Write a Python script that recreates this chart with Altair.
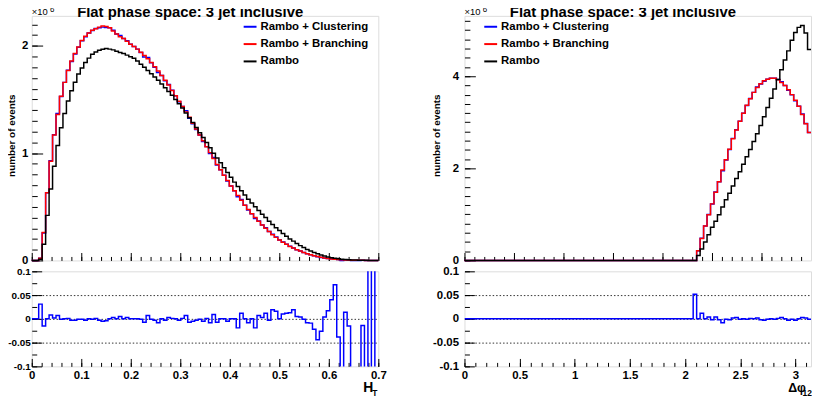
import math
import altair as alt
import pandas as pd

FONT = "Liberation Sans"
NBINS = 100
HT_RANGE = [0.0, 0.7]
DPHI_RANGE = [0.0, 3.14159265]

SERIES = ["Rambo + Clustering", "Rambo + Branching", "Rambo"]
COLORS = ["#0000ff", "#ff0000", "#000000"]

# ---------------- H_T histograms (units of 1e6 events), 100 bins on [0, 0.7]
ht_branching = [
    0, 0, 0.02, 0.26, 0.63, 0.925, 1.17, 1.36, 1.53, 1.66,
    1.77, 1.86, 1.93, 1.99, 2.05, 2.09, 2.12, 2.145, 2.16, 2.175,
    2.185, 2.18, 2.17, 2.14, 2.11, 2.086, 2.068, 2.043, 2.015, 1.995,
    1.97, 1.94, 1.91, 1.88, 1.845, 1.805, 1.765, 1.725, 1.68, 1.635,
    1.585, 1.535, 1.485, 1.435, 1.385, 1.335, 1.28, 1.225, 1.17, 1.115,
    1.06, 1.005, 0.95, 0.895, 0.845, 0.795, 0.745, 0.695, 0.65, 0.605,
    0.56, 0.515, 0.475, 0.435, 0.40, 0.365, 0.33, 0.30, 0.27, 0.24,
    0.215, 0.19, 0.17, 0.15, 0.13, 0.115, 0.10, 0.087, 0.075, 0.063,
    0.053, 0.044, 0.036, 0.029, 0.023, 0.018, 0.014, 0.011, 0.008, 0.006,
    0.004, 0.003, 0.002, 0.0015, 0.001, 0.0007, 0.0004, 0.0002, 0.0001, 0.0,
]
ht_clustering = [
    0, 0, 0.021, 0.256, 0.63, 0.93, 1.172, 1.37, 1.528, 1.66,
    1.772, 1.855, 1.925, 1.988, 2.048, 2.085, 2.12, 2.143, 2.162, 2.17,
    2.175, 2.172, 2.17, 2.146, 2.11, 2.096, 2.068, 2.049, 2.015, 1.995,
    1.97, 1.938, 1.897, 1.893, 1.843, 1.8, 1.751, 1.725, 1.675, 1.64,
    1.587, 1.535, 1.48, 1.436, 1.395, 1.326, 1.274, 1.221, 1.169, 1.109,
    1.061, 0.997, 0.959, 0.889, 0.845, 0.795, 0.741, 0.695, 0.65, 0.594,
    0.567, 0.515, 0.471, 0.435, 0.392, 0.368, 0.331, 0.304, 0.269, 0.245,
    0.218, 0.19, 0.172, 0.152, 0.132, 0.117, 0.1, 0.087, 0.075, 0.062,
    0.052, 0.043, 0.034, 0.028, 0.023, 0.018, 0.0146, 0.0118, 0.0077, 0.0,
    0.004, 0.003, 0.0, 0.0, 0.0, 0.0007, 0.0, 0.0003, 0.0, 0.0002,
]
ht_rambo = [
    0, 0, 0.01, 0.15, 0.42, 0.667, 0.879, 1.072, 1.238, 1.37,
    1.487, 1.582, 1.662, 1.739, 1.794, 1.846, 1.886, 1.923, 1.944, 1.96,
    1.969, 1.975, 1.97, 1.963, 1.95, 1.938, 1.929, 1.914, 1.899, 1.885,
    1.86, 1.83, 1.80, 1.77, 1.74, 1.71, 1.68, 1.645, 1.61, 1.575,
    1.54, 1.50, 1.46, 1.42, 1.375, 1.33, 1.285, 1.24, 1.19, 1.145,
    1.10, 1.05, 1.00, 0.955, 0.91, 0.865, 0.82, 0.775, 0.73, 0.69,
    0.65, 0.61, 0.57, 0.535, 0.50, 0.465, 0.43, 0.40, 0.365, 0.335,
    0.305, 0.28, 0.25, 0.225, 0.20, 0.18, 0.158, 0.138, 0.12, 0.103,
    0.088, 0.074, 0.062, 0.051, 0.041, 0.033, 0.026, 0.02, 0.015, 0.011,
    0.008, 0.006, 0.004, 0.003, 0.002, 0.0013, 0.0008, 0.0004, 0.0002, 0.0001,
]
ht_ratio = [
    0, 0, 0.031, -0.015, 0, 0.008, 0.002, 0.007, -0.001, 0,
    0.001, -0.003, -0.003, -0.001, -0.001, -0.003, 0, -0.001, 0.001, -0.003,
    -0.005, -0.004, 0, 0.003, 0, 0.005, 0, 0.003, 0, 0,
    0, -0.001, -0.007, 0.007, -0.001, -0.003, -0.008, 0, -0.003, 0.003,
    0.001, 0, -0.003, 0.001, 0.007, -0.007, -0.005, -0.003, -0.001, -0.005,
    0.001, -0.008, 0.009, -0.007, 0, 0, -0.005, 0, 0, -0.019,
    0.012, 0, -0.008, 0, -0.019, 0.007, 0.003, 0.012, -0.003, 0.019,
    0.016, 0, 0.01, 0.012, 0.013, 0.019, 0.005, 0.004, -0.001, -0.008,
    -0.009, -0.022, -0.044, -0.026, 0.004, 0.017, 0.04, 0.072, -0.038, -0.5,
    0.014, -0.015, -0.5, -0.5, -0.5, -0.014, -0.5, 0.5, -0.5, 0.5,
]

# ---------------- delta phi_12 histograms, 100 bins on [0, pi]
dphi_branching = [0] * 67 + [
    0.209, 0.474, 0.747, 0.991, 1.228, 1.48, 1.71, 1.961, 2.184, 2.414,
    2.644, 2.83, 3.024, 3.197, 3.369, 3.513, 3.649, 3.757, 3.836, 3.9,
    3.936, 3.958, 3.958, 3.922, 3.865, 3.8, 3.707, 3.6, 3.477, 3.348,
    3.168, 2.967, 2.78,
]
dphi_clustering = [0] * 67 + [
    0.209, 0.48, 0.747, 0.995, 1.226, 1.486, 1.707, 1.945, 2.182, 2.41,
    2.65, 2.838, 3.021, 3.197, 3.366, 3.516, 3.649, 3.765, 3.829, 3.888,
    3.932, 3.958, 3.954, 3.926, 3.877, 3.8, 3.696, 3.596, 3.467, 3.348,
    3.178, 2.973, 2.777,
]
dphi_rambo = [0] * 67 + [
    0.108, 0.25, 0.40, 0.56, 0.72, 0.85, 0.99, 1.16, 1.315, 1.46,
    1.615, 1.78, 1.925, 2.09, 2.25, 2.41, 2.58, 2.75, 2.93, 3.12,
    3.32, 3.52, 3.72, 3.93, 4.14, 4.35, 4.55, 4.78, 4.95, 5.06,
    5.1, 4.94, 4.58,
]
dphi_ratio = [0] * 66 + [
    0.052, 0, 0.012, 0, 0.004, -0.002, 0.004, -0.002, -0.008, -0.001,
    -0.002, 0.002, 0.003, -0.001, 0, -0.001, 0.001, 0, 0.002, -0.002,
    -0.003, -0.001, 0, -0.001, 0.001, 0.003, 0, -0.003, -0.001, -0.003,
    0, 0.003, 0.002, -0.001,
]

HT_TICKS = [0, 0.1, 0.2, 0.3, 0.4, 0.5, 0.6, 0.7]
DPHI_TICKS = [0, 0.5, 1, 1.5, 2, 2.5, 3]
HT_YTICKS = [0, 1, 2]
DPHI_YTICKS = [0, 2, 4]
RATIO_TICKS = [-0.1, -0.05, 0, 0.05, 0.1]
RATIO_GRID = [-0.05, 0, 0.05]

ht_minor_x = [round(0.02 * i, 3) for i in range(36)]
dphi_minor_x = [round(0.1 * i, 2) for i in range(32)]
dphi_top_major_x = [k * math.pi / 7 for k in range(8)]
dphi_top_minor_x = [k * math.pi / 35 for k in range(36)]
ht_minor_y = [round(0.1 * i, 2) for i in range(23)]
dphi_minor_y = [round(0.2 * i, 2) for i in range(27)]
ratio_minor_y = [round(-0.1 + 0.025 * i, 3) for i in range(9)]


def step_frame(rng, named):
    lo, hi = rng
    w = (hi - lo) / NBINS
    rows = []
    for name, vals in named:
        for i, v in enumerate(vals):
            rows.append({"x": lo + i * w, "y": v, "s": name})
        rows.append({"x": hi, "y": vals[-1], "s": name})
    return pd.DataFrame(rows)


def axis(values, size, orient, labels=False, pad=3, expr=None, grid=False, ticks=True,
         lsize=11.5):
    kw = dict(values=values, orient=orient, domain=False, grid=grid, labels=labels,
              title=None, ticks=ticks)
    if ticks:
        kw.update(tickSize=size, offset=-size, tickColor="black", tickWidth=1)
    if labels:
        kw.update(labelFont=FONT, labelFontSize=lsize, labelFontWeight="bold",
                  labelColor="black", labelPadding=pad, labelExpr=expr,
                  labelOverlap=False, labelFlush=False)
    if grid:
        kw.update(gridColor="#333333", gridDash=[1.5, 2], gridWidth=1)
    return alt.Axis(**kw)


def text(t, x, y, size, weight="bold", align="left", angle=0, baseline="alphabetic"):
    return alt.Chart(pd.DataFrame({"t": [t]})).mark_text(
        font=FONT, fontSize=size, fontWeight=weight, align=align,
        baseline=baseline, angle=angle, color="black",
    ).encode(x=alt.value(x), y=alt.value(y), text="t:N")


W, H_TOP, H_RAT = 350, 247, 96


def top_panel(df, xdom, ydom, xmaj, xmin, ymaj, ymin, ypad, leg_x, ytitle_x):
    xs = alt.Scale(domain=xdom, nice=False, zero=False)
    ys = alt.Scale(domain=ydom, nice=False, zero=False)
    base = alt.Chart(df)
    hist = base.mark_line(interpolate="step-after", strokeWidth=1.5).encode(
        x=alt.X("x:Q", scale=xs, axis=axis(xmaj, 8, "bottom")),
        y=alt.Y("y:Q", scale=ys, axis=axis(ymaj, 11, "left", labels=True, pad=ypad,
                                            expr="format(datum.value, '~g')")),
        color=alt.Color("s:N", scale=alt.Scale(domain=SERIES, range=COLORS),
                        legend=alt.Legend(orient="none", legendX=leg_x, legendY=3.5,
                                          title=None, symbolType="stroke",
                                          symbolSize=169, symbolStrokeWidth=2,
                                          labelFont=FONT, labelFontSize=11.5,
                                          labelFontWeight="bold", labelColor="black",
                                          labelOffset=3, rowPadding=4.5, padding=0)),
    )
    minor = base.mark_line(opacity=0).encode(
        x=alt.X("x:Q", scale=xs, axis=axis(xmin, 4, "bottom")),
        y=alt.Y("y:Q", scale=ys, axis=axis(ymin, 5.5, "left")),
    )
    layers = [
        minor, hist,
        text("Flat phase space: 3 jet inclusive", 160, 1, 15, align="center"),
        text("\u00d710", 0, -1, 9.5, weight="normal"),
        text("6", 18.5, -4, 8, weight="normal"),
        text("number of events", ytitle_x, 121, 10, align="center", angle=270,
             baseline="middle"),
    ]
    return alt.layer(*layers).resolve_axis(x="independent", y="independent").properties(
        width=W, height=H_TOP)


def ratio_panel(df, xdom, xmaj, xmin, ypad, ysize, title_layers):
    xs = alt.Scale(domain=xdom, nice=False, zero=False)
    ys = alt.Scale(domain=[-0.1, 0.1], nice=False, zero=False)
    base = alt.Chart(df)
    grid = base.mark_line(opacity=0).encode(
        x=alt.X("x:Q", scale=xs, axis=None),
        y=alt.Y("y:Q", scale=ys, axis=axis(RATIO_GRID, 0, "left", grid=True, ticks=False)),
    )
    minor = base.mark_line(opacity=0).encode(
        x=alt.X("x:Q", scale=xs, axis=axis(xmin, 4, "bottom")),
        y=alt.Y("y:Q", scale=ys, axis=axis(ratio_minor_y, 5, "left")),
    )
    line = base.mark_line(interpolate="step-after", strokeWidth=1.5, color="#0000ff",
                          clip=True).encode(
        x=alt.X("x:Q", scale=xs, axis=axis(xmaj, 8, "bottom", labels=True, pad=3,
                                            expr="format(datum.value, '~g')")),
        y=alt.Y("y:Q", scale=ys, axis=axis(
            RATIO_TICKS, 10, "left", labels=True, pad=ypad, lsize=ysize,
            expr="datum.value == 0 ? '0' : (datum.value < 0 ? '-' : '') + format(abs(datum.value), '~g')")),
    )
    return alt.layer(grid, minor, line, *title_layers).resolve_axis(
        x="independent", y="independent").properties(width=W, height=H_RAT)


ht_df = step_frame(HT_RANGE, [(SERIES[0], ht_clustering), (SERIES[1], ht_branching),
                              (SERIES[2], ht_rambo)])
dphi_df = step_frame(DPHI_RANGE, [(SERIES[0], dphi_clustering), (SERIES[1], dphi_branching),
                                  (SERIES[2], dphi_rambo)])
ht_rdf = step_frame(HT_RANGE, [("ratio", ht_ratio)])
dphi_rdf = step_frame(DPHI_RANGE, [("ratio", dphi_ratio)])

tl = top_panel(ht_df, HT_RANGE, [0, 2.28], HT_TICKS, ht_minor_x, HT_YTICKS, ht_minor_y,
               4, 213, -20)
tr = top_panel(dphi_df, DPHI_RANGE, [0, 5.31], dphi_top_major_x, dphi_top_minor_x,
               DPHI_YTICKS, dphi_minor_y, 6, 19, -28)
bl = ratio_panel(ht_rdf, HT_RANGE, HT_TICKS, ht_minor_x, 1.5, 10, [
    text("H", 334.7, 122, 14),
    text("T", 344, 125.7, 8.5),
])
br = ratio_panel(dphi_rdf, DPHI_RANGE, DPHI_TICKS, dphi_minor_x, 6, 11.5, [
    text("\u0394\u03c6", 327, 121.5, 12.5),
    text("12", 341.5, 126, 8.5),
])

chart = alt.concat(tl, tr, bl, br, columns=2, spacing={"row": 11, "column": 87}).properties(
    bounds="flush",
    autosize=alt.AutoSizeParams(type="none"),
    padding={"left": 24, "top": 6, "right": 788, "bottom": 385},
).resolve_scale(color="independent").configure_view(
    stroke="black", strokeWidth=1
).configure(background="white")

chart.save("out.html", embed_options={"renderer": "svg", "actions": False})
